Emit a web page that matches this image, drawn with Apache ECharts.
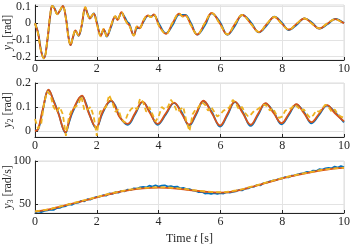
<!DOCTYPE html>
<html><head><meta charset="utf-8">
<script src="https://cdn.jsdelivr.net/npm/echarts@6/dist/echarts.min.js"></script>
<style>html,body{margin:0;padding:0;background:#fff}#c{width:350px;height:245px}</style>
</head><body><div id="c"></div>
<script>
// ---- Panel 1: y1 [rad] ----
const t1 = [0,0.1,0.2,0.29,0.4,0.5,0.56,0.64,0.72,0.8,0.9,1.0,1.08,1.15,1.23,1.31,1.36,1.41,1.5,1.63,1.71,1.78,1.84,1.9,2.0,2.13,2.18,2.22,2.27,2.32,2.45,2.6,2.67,2.8,2.9,2.99,3.05,3.2,3.3,3.38,3.52,3.65,3.75,3.84,4.02,4.24,4.45,4.67,4.78,4.86,5.05,5.25,5.5,5.72,5.98,6.23,6.47,6.71,6.98,7.25,7.5,7.75,7.98,8.22,8.47,8.72,8.96,9.2,9.46,9.72,9.86,10];
const y1Blue = [0,-0.055,-0.165,-0.21,-0.105,0.055,0.104,0.088,0.055,0.072,0.103,0.035,-0.075,-0.13,-0.085,-0.045,-0.058,-0.075,-0.025,0.09,0.055,0.03,0.042,0.06,0.008,-0.072,-0.055,-0.04,-0.05,-0.08,-0.028,0.04,0.025,0.062,0.038,0.008,-0.002,-0.07,-0.03,-0.028,0.012,0.045,0.042,0.05,-0.005,-0.06,-0.012,0.052,0.05,0.05,0.0,-0.068,-0.012,0.06,0.01,-0.068,-0.015,0.05,0.008,-0.054,-0.012,0.04,0.006,-0.04,-0.008,0.03,0.005,-0.032,-0.006,0.026,0.018,0.002];
const y1Orange = [0,-0.06,-0.17,-0.21,-0.1,0.06,0.105,0.085,0.055,0.075,0.104,0.03,-0.08,-0.13,-0.08,-0.042,-0.06,-0.073,-0.02,0.096,0.05,0.029,0.045,0.058,0.0,-0.077,-0.05,-0.035,-0.055,-0.077,-0.02,0.042,0.02,0.067,0.03,0.0,-0.01,-0.073,-0.02,-0.03,0.02,0.048,0.038,0.054,-0.015,-0.063,0.0,0.058,0.042,0.048,-0.01,-0.067,0.0,0.062,0.0,-0.067,-0.005,0.05,0.0,-0.052,-0.005,0.038,0.0,-0.038,-0.003,0.029,0.0,-0.031,-0.002,0.025,0.015,0.0];
const y1Yellow = [0,-0.062,-0.172,-0.21,-0.098,0.062,0.105,0.083,0.054,0.076,0.104,0.028,-0.082,-0.13,-0.078,-0.04,-0.06,-0.072,-0.018,0.097,0.048,0.028,0.046,0.057,-0.002,-0.078,-0.05,-0.034,-0.056,-0.076,-0.018,0.043,0.02,0.067,0.028,-0.002,-0.012,-0.073,-0.018,-0.03,0.022,0.048,0.037,0.054,-0.018,-0.063,0.003,0.058,0.04,0.047,-0.012,-0.066,0.003,0.061,-0.003,-0.066,-0.002,0.05,-0.002,-0.051,-0.003,0.038,-0.002,-0.037,-0.001,0.029,-0.002,-0.03,0.0,0.025,0.014,-0.001];
const y1Ticks = [-0.2,-0.1,0,0.1];

// ---- Panel 2: y2 [rad] ----
const t2 = [0,0.1,0.25,0.44,0.6,0.75,0.99,1.1,1.23,1.52,1.65,1.76,1.98,2.19,2.46,2.6,2.73,3.0,3.24,3.48,3.72,3.97,4.24,4.5,4.75,4.99,5.22,5.45,5.72,5.99,6.23,6.47,6.72,6.98,7.22,7.46,7.72,7.98,8.22,8.46,8.7,8.95,9.2,9.45,9.7,10];
const y2Blue = [0.002,0.006,0.085,0.17,0.128,0.078,-0.008,0.035,0.082,0.145,0.115,0.07,0.012,0.075,0.125,0.105,0.062,0.026,0.07,0.12,0.08,0.026,0.07,0.116,0.078,0.022,0.07,0.124,0.08,0.018,0.067,0.12,0.08,0.021,0.067,0.114,0.08,0.028,0.068,0.11,0.08,0.032,0.068,0.106,0.08,0.036];
const y2Orange = [0.0,0.008,0.09,0.172,0.125,0.075,-0.005,0.04,0.088,0.147,0.11,0.068,0.015,0.08,0.128,0.1,0.06,0.03,0.075,0.122,0.075,0.03,0.075,0.118,0.072,0.027,0.075,0.126,0.075,0.023,0.072,0.122,0.075,0.026,0.072,0.116,0.075,0.033,0.073,0.112,0.075,0.037,0.073,0.108,0.075,0.04];
const t2y = [0,0.1,0.2,0.3,0.4,0.5,0.6,0.7,0.8,0.9,1.0,1.1,1.2,1.3,1.4,1.5,1.6,1.7,1.8,1.9,2.0,2.1,2.2,2.3,2.4,2.5,2.6,2.7,2.8,2.9,3.0,3.1,3.2,3.3,3.4,3.5,3.6,3.7,3.8,3.9,4.0,4.1,4.2,4.3,4.4,4.5,4.6,4.7,4.8,4.9,5.0,5.1,5.2,5.3,5.4,5.5,5.6,5.7,5.8,5.9,6.0,6.1,6.2,6.3,6.4,6.5,6.6,6.7,6.8,6.9,7.0,7.1,7.2,7.3,7.4,7.5,7.6,7.7,7.8,7.9,8.0,8.1,8.2,8.3,8.4,8.5,8.6,8.7,8.8,8.9,9.0,9.1,9.2,9.3,9.4,9.5,9.6,9.7,9.8,9.9,10.0];
const y2Yellow = [0.05,0.01,0.03,0.12,0.165,0.15,0.1,0.08,0.1,0.07,-0.02,0.06,0.09,0.1,0.11,0.145,0.085,0.09,0.1,0.06,-0.02,0.08,0.09,0.1,0.15,0.12,0.08,0.09,0.05,0.035,0.07,0.09,0.1,0.09,0.135,0.12,0.08,0.1,0.07,0.04,0.06,0.1,0.09,0.1,0.13,0.11,0.08,0.09,0.1,0.04,0.0,0.07,0.09,0.1,0.12,0.11,0.085,0.1,0.08,0.06,0.07,0.085,0.09,0.1,0.13,0.115,0.09,0.1,0.075,0.06,0.07,0.085,0.09,0.1,0.11,0.105,0.085,0.095,0.07,0.055,0.06,0.085,0.09,0.095,0.11,0.1,0.085,0.09,0.07,0.055,0.065,0.085,0.08,0.095,0.11,0.1,0.08,0.09,0.07,0.06,0.055];
const y2Ticks = [0,0.1,0.2];

// ---- Panel 3: y3 [rad/s] ----
const t3 = t2y;
const y3Blue = [40.5,42,41,42.5,43,44,43.5,45.5,46,47.5,48,50,49.5,51.5,52,54,53.5,56,55.5,57.5,58.5,59,60.5,60,62.5,62,64,63.5,65.5,65,67,66.5,68.5,68,69.5,70,69.5,71.5,70.5,72,70.5,71.5,72,70.5,71,70,70.5,68.5,69,67.5,67.5,66,65.5,64,64.5,62.5,63,62,63,62,63,62.5,64,63.5,64.5,65,66.5,66,68,68.5,70,70.5,72.5,72,74.5,75,76.5,77.5,78,79.5,80,81.5,81,83,83.5,84.5,85.5,86,87.5,87,89,88.5,90.5,90,91.5,92,91.5,93.5,92.5,94,93];
const t3s = [0,0.5,1,1.5,2,2.5,3,3.5,4,4.5,5,5.5,6,6.5,7,7.5,8,8.5,9,9.5,10];
const y3Orange = [41.5,44.5,49,53.5,58,62.5,66,68.3,69.2,68.5,66.5,64.5,63.5,65.5,70,75,80,84,87.5,90.5,92];
const y3Yellow = [41.8,44.8,49.3,54,58.5,63,66.6,68.8,69.6,69,67,65,64,66,70.3,75.3,80.3,84.3,87.8,90.7,92.2];
const y3Ticks = [50,100];

const xTicksMax = 10, xInterval = 2;
const C = {blue:'#0072BD', orange:'#D95319', yellow:'#EDB120'};
const FONT = 'Liberation Serif';
const TXT = '#262626';

function pairs(t, v){ return t.map((x,i)=>[x, v[i]]); }

const grids = [
  {left:35, top:5, width:309, height:55},
  {left:35, top:83, width:309, height:54},
  {left:35, top:161, width:309, height:52}
].map(g=>Object.assign({show:true, borderColor:'#dddddd', borderWidth:1, backgroundColor:'#fff', containLabel:false, outerBoundsMode:'none'}, g));

function xAx(i, name){
  const a = {type:'value', gridIndex:i, min:0, max:xTicksMax, interval:xInterval,
    axisLine:{show:true, onZero:false, lineStyle:{color:TXT, width:1}},
    axisTick:{show:true, inside:true, length:3, lineStyle:{color:TXT}},
    splitLine:{show:true, lineStyle:{color:'#e3e3e3', width:1}},
    axisLabel:{fontFamily:FONT, fontSize:12, color:TXT, margin:3}};
  if(name){
    a.name = 'Time {it|t} [s]';
    a.nameLocation = 'middle';
    a.nameGap = 20;
    a.nameMoveOverlap = false;
    a.nameTextStyle = {fontFamily:FONT, fontSize:12, color:TXT, rich:{it:{fontFamily:FONT, fontSize:12, fontStyle:'italic', color:TXT}}};
  }
  return a;
}
function yAx(i, min, max, ticks, sub, unit){
  return {type:'value', gridIndex:i, min:min, max:max,
    axisLine:{show:true, onZero:false, lineStyle:{color:TXT, width:1}},
    axisTick:{show:true, inside:true, length:3, lineStyle:{color:TXT}, customValues:ticks},
    splitLine:{show:true, lineStyle:{color:'#e3e3e3', width:1}},
    axisLabel:{fontFamily:FONT, fontSize:12, color:TXT, margin:4, customValues:ticks,
      formatter:v=>String(+v.toFixed(2))},
    name:'{it|y}{sub|'+sub+'} '+unit, nameLocation:'middle', nameRotate:90, nameGap:20,
    nameMoveOverlap:false,
    nameTextStyle:{fontFamily:FONT, fontSize:12, color:TXT,
      rich:{it:{fontFamily:FONT, fontSize:12, fontStyle:'italic', color:TXT},
            sub:{fontFamily:FONT, fontSize:8, color:TXT, verticalAlign:'bottom', padding:[6,0,0,0]}}}
  };
}
function line(i, t, v, color, dashed, z, smooth){
  return {type:'line', xAxisIndex:i, yAxisIndex:i, data:pairs(t,v), showSymbol:false, symbol:'none',
    smooth: smooth, z:z, animation:false,
    lineStyle:{color:color, width:1.8, type: dashed ? [5,3] : 'solid'}};
}

const option = {
  animation:false,
  grid: grids,
  xAxis: [xAx(0,false), xAx(1,false), xAx(2,true)],
  yAxis: [
    yAx(0,-0.22,0.11,y1Ticks,'1','[rad]'),
    yAx(1,-0.025,0.2,y2Ticks,'2','[rad]'),
    yAx(2,40,100,y3Ticks,'3','[rad/s]')
  ],
  series: [
    line(0,t1,y1Blue,C.blue,false,2,0.4),
    line(0,t1,y1Orange,C.orange,false,3,0.4),
    line(0,t1,y1Yellow,C.yellow,true,4,0.4),
    line(1,t2,y2Blue,C.blue,false,2,0.4),
    line(1,t2,y2Orange,C.orange,false,3,0.4),
    line(1,t2y,y2Yellow,C.yellow,true,4,0),
    line(2,t3,y3Blue,C.blue,false,2,0),
    line(2,t3s,y3Orange,C.orange,false,3,0.4),
    line(2,t3s,y3Yellow,C.yellow,true,4,0.4)
  ]
};
const chart = echarts.init(document.getElementById('c'), null, {renderer:'canvas'});
chart.setOption(option);
</script></body></html>
